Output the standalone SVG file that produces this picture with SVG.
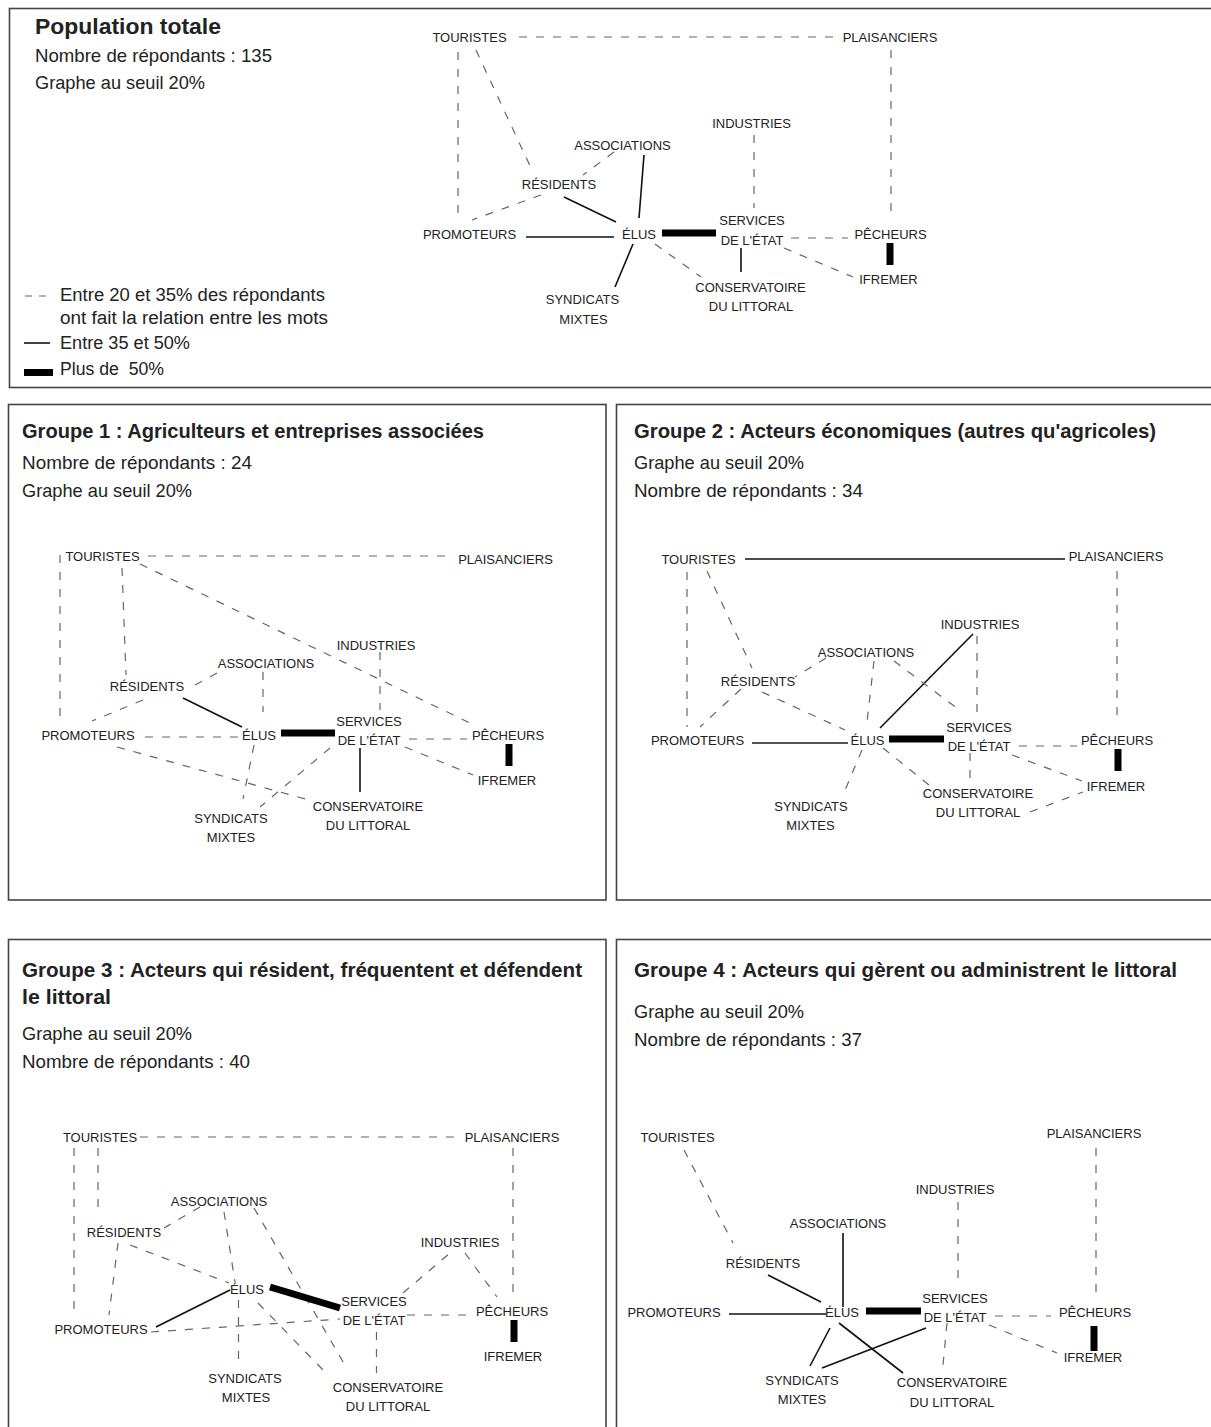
<svg xmlns="http://www.w3.org/2000/svg" width="1211" height="1427" viewBox="0 0 1211 1427">
<style>
text{font-family:"Liberation Sans",Arial,sans-serif;fill:#222}
.h{font-weight:bold;font-size:20px}
.t{font-size:19px}
.lg{font-size:18px}
.l{font-size:13px;text-anchor:middle}
.panel{fill:none;stroke:#444;stroke-width:1.6}
.d{fill:none;stroke:#666;stroke-width:1.2;stroke-dasharray:8,9}
.s{fill:none;stroke:#111;stroke-width:1.6}
.k{fill:none;stroke:#000;stroke-width:7}
</style>
<rect width="1211" height="1427" fill="#fff"/>

<!-- ================= PANEL 0 : Population totale ================= -->
<g id="panel-0">
<rect class="panel" x="9.5" y="8.5" width="1212" height="379"/>
<text class="h" x="35" y="33.5" style="font-size:22px" textLength="186" lengthAdjust="spacingAndGlyphs">Population totale</text>
<text class="t" x="35" y="62" textLength="237" lengthAdjust="spacingAndGlyphs">Nombre de répondants : 135</text>
<text class="t" x="35" y="89" textLength="170" lengthAdjust="spacingAndGlyphs">Graphe au seuil 20%</text>
</g>
<g id="legend">
<line class="d" x1="25" y1="296" x2="50" y2="296" style="stroke-dasharray:7,7"/>
<text class="lg" x="60" y="301" textLength="265" lengthAdjust="spacingAndGlyphs">Entre 20 et 35% des répondants</text>
<text class="lg" x="60" y="324" textLength="268" lengthAdjust="spacingAndGlyphs">ont fait la relation entre les mots</text>
<line class="s" x1="24" y1="343" x2="50" y2="343"/>
<text class="lg" x="60" y="349" textLength="130" lengthAdjust="spacingAndGlyphs">Entre 35 et 50%</text>
<rect x="24" y="369" width="29" height="7" fill="#000"/>
<text class="lg" x="60" y="375" xml:space="preserve" textLength="104" lengthAdjust="spacingAndGlyphs">Plus de  50%</text>
</g>
<g id="p0-edges">
<path class="d" d="M519,37 H834"/>
<path class="d" d="M458,52 V220"/>
<path class="d" d="M476,50 L531,168"/>
<path class="d" d="M891,50 V218"/>
<path class="d" d="M754,135 V208"/>
<path class="d" d="M614,152 L583,175"/>
<path class="s" d="M644,155 L639,218"/>
<path class="d" d="M541,195 L472,220"/>
<path class="s" d="M564,197 L616,222"/>
<path class="s" d="M526,237 H614"/>
<path class="k" d="M662,233 H716"/>
<path class="s" d="M633,244 L615,287"/>
<path class="d" d="M655,244 L701,277"/>
<path class="s" d="M741,248 V272"/>
<path class="d" d="M791,238 H848"/>
<path class="d" d="M784,248 L853,277"/>
<path class="k" d="M890,243 V265"/>
</g>
<g id="p0-touristes"><text class="l" x="469.5" y="41.5">TOURISTES</text></g>
<g id="p0-plaisanciers"><text class="l" x="890" y="41.5">PLAISANCIERS</text></g>
<g id="p0-industries"><text class="l" x="751.5" y="127.5">INDUSTRIES</text></g>
<g id="p0-associations"><text class="l" x="622.5" y="149.5">ASSOCIATIONS</text></g>
<g id="p0-residents"><text class="l" x="559" y="188.5">RÉSIDENTS</text></g>
<g id="p0-promoteurs"><text class="l" x="469.5" y="238.5">PROMOTEURS</text></g>
<g id="p0-elus"><text class="l" x="639" y="238.5">ÉLUS</text></g>
<g id="p0-services"><text class="l" x="752" y="224.5">SERVICES</text><text class="l" x="752" y="244.5">DE L'ÉTAT</text></g>
<g id="p0-pecheurs"><text class="l" x="890.5" y="238.5">PÊCHEURS</text></g>
<g id="p0-ifremer"><text class="l" x="888.5" y="283.5">IFREMER</text></g>
<g id="p0-conservatoire"><text class="l" x="750.5" y="291.5">CONSERVATOIRE</text><text class="l" x="751" y="310.5">DU LITTORAL</text></g>
<g id="p0-syndicats"><text class="l" x="582.5" y="303.5">SYNDICATS</text><text class="l" x="583.5" y="323.5">MIXTES</text></g>

<!-- ================= PANEL 1 ================= -->
<g id="panel-1">
<rect class="panel" x="8.5" y="404.5" width="597.5" height="495.5"/>
<text class="h" x="22" y="438" textLength="462" lengthAdjust="spacingAndGlyphs">Groupe 1 : Agriculteurs et entreprises associées</text>
<text class="t" x="22" y="469" textLength="230" lengthAdjust="spacingAndGlyphs">Nombre de répondants : 24</text>
<text class="t" x="22" y="497" textLength="170" lengthAdjust="spacingAndGlyphs">Graphe au seuil 20%</text>
</g>
<g id="p1-edges">
<path class="d" d="M148,556 H446"/>
<path class="d" d="M60,555 V722"/>
<path class="d" d="M122,568 L126,675"/>
<path class="d" d="M140,564 L470,723"/>
<path class="d" d="M380,652 V710"/>
<path class="d" d="M195,685 L219,672"/>
<path class="d" d="M263,672 V712"/>
<path class="s" d="M183,698 L242,727"/>
<path class="d" d="M143,700 L92,721"/>
<path class="d" d="M145,737 H239"/>
<path class="k" d="M281,733 H335"/>
<path class="d" d="M254,745 L243,799"/>
<path class="d" d="M330,748 L260,807"/>
<path class="d" d="M117,747 L309,800"/>
<path class="s" d="M360,748 V792"/>
<path class="d" d="M409,739 H467"/>
<path class="d" d="M405,747 L473,775"/>
<path class="k" d="M509,744 V766"/>
</g>
<g id="p1-touristes"><text class="l" x="102.5" y="560.5">TOURISTES</text></g>
<g id="p1-plaisanciers"><text class="l" x="505.5" y="563.5">PLAISANCIERS</text></g>
<g id="p1-industries"><text class="l" x="376" y="649.5">INDUSTRIES</text></g>
<g id="p1-associations"><text class="l" x="266" y="667.5">ASSOCIATIONS</text></g>
<g id="p1-residents"><text class="l" x="147" y="690.5">RÉSIDENTS</text></g>
<g id="p1-promoteurs"><text class="l" x="88" y="739.5">PROMOTEURS</text></g>
<g id="p1-elus"><text class="l" x="259" y="739.5">ÉLUS</text></g>
<g id="p1-services"><text class="l" x="369" y="725.5">SERVICES</text><text class="l" x="369" y="744.5">DE L'ÉTAT</text></g>
<g id="p1-pecheurs"><text class="l" x="508" y="739.5">PÊCHEURS</text></g>
<g id="p1-ifremer"><text class="l" x="507" y="784.5">IFREMER</text></g>
<g id="p1-conservatoire"><text class="l" x="368" y="810.5">CONSERVATOIRE</text><text class="l" x="368" y="829.5">DU LITTORAL</text></g>
<g id="p1-syndicats"><text class="l" x="231" y="822.5">SYNDICATS</text><text class="l" x="231" y="841.5">MIXTES</text></g>

<!-- ================= PANEL 2 ================= -->
<g id="panel-2">
<rect class="panel" x="616.5" y="404.5" width="605" height="495.5"/>
<text class="h" x="634" y="438" textLength="522" lengthAdjust="spacingAndGlyphs">Groupe 2 : Acteurs économiques (autres qu'agricoles)</text>
<text class="t" x="634" y="469" textLength="170" lengthAdjust="spacingAndGlyphs">Graphe au seuil 20%</text>
<text class="t" x="634" y="497" textLength="229" lengthAdjust="spacingAndGlyphs">Nombre de répondants : 34</text>
</g>
<g id="p2-edges">
<path class="s" d="M745,559 H1065"/>
<path class="d" d="M687,572 V727"/>
<path class="d" d="M707,571 L752,668"/>
<path class="d" d="M1117,571 V722"/>
<path class="s" d="M973,634 L880,728"/>
<path class="d" d="M977,636 V712"/>
<path class="d" d="M826,658 L795,677"/>
<path class="d" d="M874,661 L867,722"/>
<path class="d" d="M894,661 L962,712"/>
<path class="d" d="M741,689 L700,727"/>
<path class="d" d="M762,692 L845,730"/>
<path class="s" d="M752,743 H848" style="stroke:#555;stroke-width:2"/>
<path class="k" d="M889,739 H944"/>
<path class="d" d="M862,750 L843,795"/>
<path class="d" d="M883,748 L929,785"/>
<path class="d" d="M970,753 V778"/>
<path class="d" d="M1019,746 H1077"/>
<path class="d" d="M1012,755 L1082,781"/>
<path class="k" d="M1118,749 V771"/>
<path class="d" d="M1030,812 L1083,792"/>
</g>
<g id="p2-touristes"><text class="l" x="698.5" y="563.5">TOURISTES</text></g>
<g id="p2-plaisanciers"><text class="l" x="1116" y="560.5">PLAISANCIERS</text></g>
<g id="p2-industries"><text class="l" x="980" y="628.5">INDUSTRIES</text></g>
<g id="p2-associations"><text class="l" x="866" y="656.5">ASSOCIATIONS</text></g>
<g id="p2-residents"><text class="l" x="758" y="685.5">RÉSIDENTS</text></g>
<g id="p2-promoteurs"><text class="l" x="697.5" y="744.5">PROMOTEURS</text></g>
<g id="p2-elus"><text class="l" x="867.5" y="744.5">ÉLUS</text></g>
<g id="p2-services"><text class="l" x="979" y="731.5">SERVICES</text><text class="l" x="979" y="750.5">DE L'ÉTAT</text></g>
<g id="p2-pecheurs"><text class="l" x="1117" y="744.5">PÊCHEURS</text></g>
<g id="p2-ifremer"><text class="l" x="1116" y="790.5">IFREMER</text></g>
<g id="p2-conservatoire"><text class="l" x="978" y="797.5">CONSERVATOIRE</text><text class="l" x="978" y="816.5">DU LITTORAL</text></g>
<g id="p2-syndicats"><text class="l" x="811" y="810.5">SYNDICATS</text><text class="l" x="810.5" y="829.5">MIXTES</text></g>

<!-- ================= PANEL 3 ================= -->
<g id="panel-3">
<rect class="panel" x="8.5" y="939.5" width="597.5" height="500"/>
<text class="h" x="22" y="977" textLength="560" lengthAdjust="spacingAndGlyphs">Groupe 3 : Acteurs qui résident, fréquentent et défendent</text>
<text class="h" x="22" y="1004" textLength="89" lengthAdjust="spacingAndGlyphs">le littoral</text>
<text class="t" x="22" y="1040" textLength="170" lengthAdjust="spacingAndGlyphs">Graphe au seuil 20%</text>
<text class="t" x="22" y="1068" textLength="228" lengthAdjust="spacingAndGlyphs">Nombre de répondants : 40</text>
</g>
<g id="p3-edges">
<path class="d" d="M140,1137 H455"/>
<path class="d" d="M74,1148 V1315"/>
<path class="d" d="M98,1148 V1213"/>
<path class="d" d="M513,1148 V1297"/>
<path class="d" d="M200,1207 L164,1228"/>
<path class="d" d="M224,1212 L235,1282"/>
<path class="d" d="M254,1208 L346,1367"/>
<path class="d" d="M118,1243 L109,1315"/>
<path class="d" d="M130,1245 L229,1283"/>
<path class="s" d="M230,1290 L156,1327"/>
<path class="d" d="M151,1332 L340,1319"/>
<path class="d" d="M407,1315 H473"/>
<path class="d" d="M238.5,1300 V1364"/>
<path class="k" d="M270,1287 L340,1308"/>
<path class="d" d="M258,1303 L326,1373"/>
<path class="d" d="M403,1293 L450,1253"/>
<path class="d" d="M465,1253 L497,1297"/>
<path class="d" d="M376.5,1332 V1373"/>
<path class="k" d="M514,1320 V1342"/>
</g>
<g id="p3-touristes"><text class="l" x="100" y="1141.5">TOURISTES</text></g>
<g id="p3-plaisanciers"><text class="l" x="512" y="1141.5">PLAISANCIERS</text></g>
<g id="p3-associations"><text class="l" x="219" y="1205.5">ASSOCIATIONS</text></g>
<g id="p3-residents"><text class="l" x="124" y="1236.5">RÉSIDENTS</text></g>
<g id="p3-industries"><text class="l" x="460" y="1246.5">INDUSTRIES</text></g>
<g id="p3-elus"><text class="l" x="247" y="1293.5">ÉLUS</text></g>
<g id="p3-services"><text class="l" x="374" y="1305.5">SERVICES</text><text class="l" x="374" y="1324.5">DE L'ÉTAT</text></g>
<g id="p3-pecheurs"><text class="l" x="512" y="1315.5">PÊCHEURS</text></g>
<g id="p3-promoteurs"><text class="l" x="101" y="1333.5">PROMOTEURS</text></g>
<g id="p3-ifremer"><text class="l" x="513" y="1360.5">IFREMER</text></g>
<g id="p3-syndicats"><text class="l" x="245" y="1382.5">SYNDICATS</text><text class="l" x="246" y="1401.5">MIXTES</text></g>
<g id="p3-conservatoire"><text class="l" x="388" y="1391.5">CONSERVATOIRE</text><text class="l" x="388" y="1410.5">DU LITTORAL</text></g>

<!-- ================= PANEL 4 ================= -->
<g id="panel-4">
<rect class="panel" x="616.5" y="939.5" width="605" height="500"/>
<text class="h" x="634" y="977" textLength="543" lengthAdjust="spacingAndGlyphs">Groupe 4 : Acteurs qui gèrent ou administrent le littoral</text>
<text class="t" x="634" y="1018" textLength="170" lengthAdjust="spacingAndGlyphs">Graphe au seuil 20%</text>
<text class="t" x="634" y="1046" textLength="228" lengthAdjust="spacingAndGlyphs">Nombre de répondants : 37</text>
</g>
<g id="p4-edges">
<path class="d" d="M684,1150 L733,1243"/>
<path class="d" d="M1096,1148 V1298"/>
<path class="d" d="M958,1202 V1287"/>
<path class="s" d="M843,1233 V1307"/>
<path class="s" d="M768,1275 L821,1302"/>
<path class="s" d="M729,1314 H826"/>
<path class="k" d="M866,1311 H921"/>
<path class="s" d="M830,1328 L810,1366"/>
<path class="s" d="M839,1323 L903,1373"/>
<path class="s" d="M926,1328 L822,1368"/>
<path class="d" d="M947,1323 L943,1365"/>
<path class="d" d="M995,1316 H1051"/>
<path class="d" d="M989,1325 L1057,1353"/>
<path class="k" d="M1094,1326 V1351"/>
</g>
<g id="p4-touristes"><text class="l" x="677.5" y="1141.5">TOURISTES</text></g>
<g id="p4-plaisanciers"><text class="l" x="1094" y="1137.5">PLAISANCIERS</text></g>
<g id="p4-industries"><text class="l" x="955" y="1193.5">INDUSTRIES</text></g>
<g id="p4-associations"><text class="l" x="838" y="1227.5">ASSOCIATIONS</text></g>
<g id="p4-residents"><text class="l" x="763" y="1267.5">RÉSIDENTS</text></g>
<g id="p4-promoteurs"><text class="l" x="674" y="1316.5">PROMOTEURS</text></g>
<g id="p4-elus"><text class="l" x="842" y="1316.5">ÉLUS</text></g>
<g id="p4-services"><text class="l" x="955" y="1302.5">SERVICES</text><text class="l" x="955" y="1321.5">DE L'ÉTAT</text></g>
<g id="p4-pecheurs"><text class="l" x="1095" y="1316.5">PÊCHEURS</text></g>
<g id="p4-ifremer"><text class="l" x="1093" y="1361.5">IFREMER</text></g>
<g id="p4-syndicats"><text class="l" x="802" y="1384.5">SYNDICATS</text><text class="l" x="802" y="1403.5">MIXTES</text></g>
<g id="p4-conservatoire"><text class="l" x="952" y="1386.5">CONSERVATOIRE</text><text class="l" x="952" y="1406.5">DU LITTORAL</text></g>
</svg>
